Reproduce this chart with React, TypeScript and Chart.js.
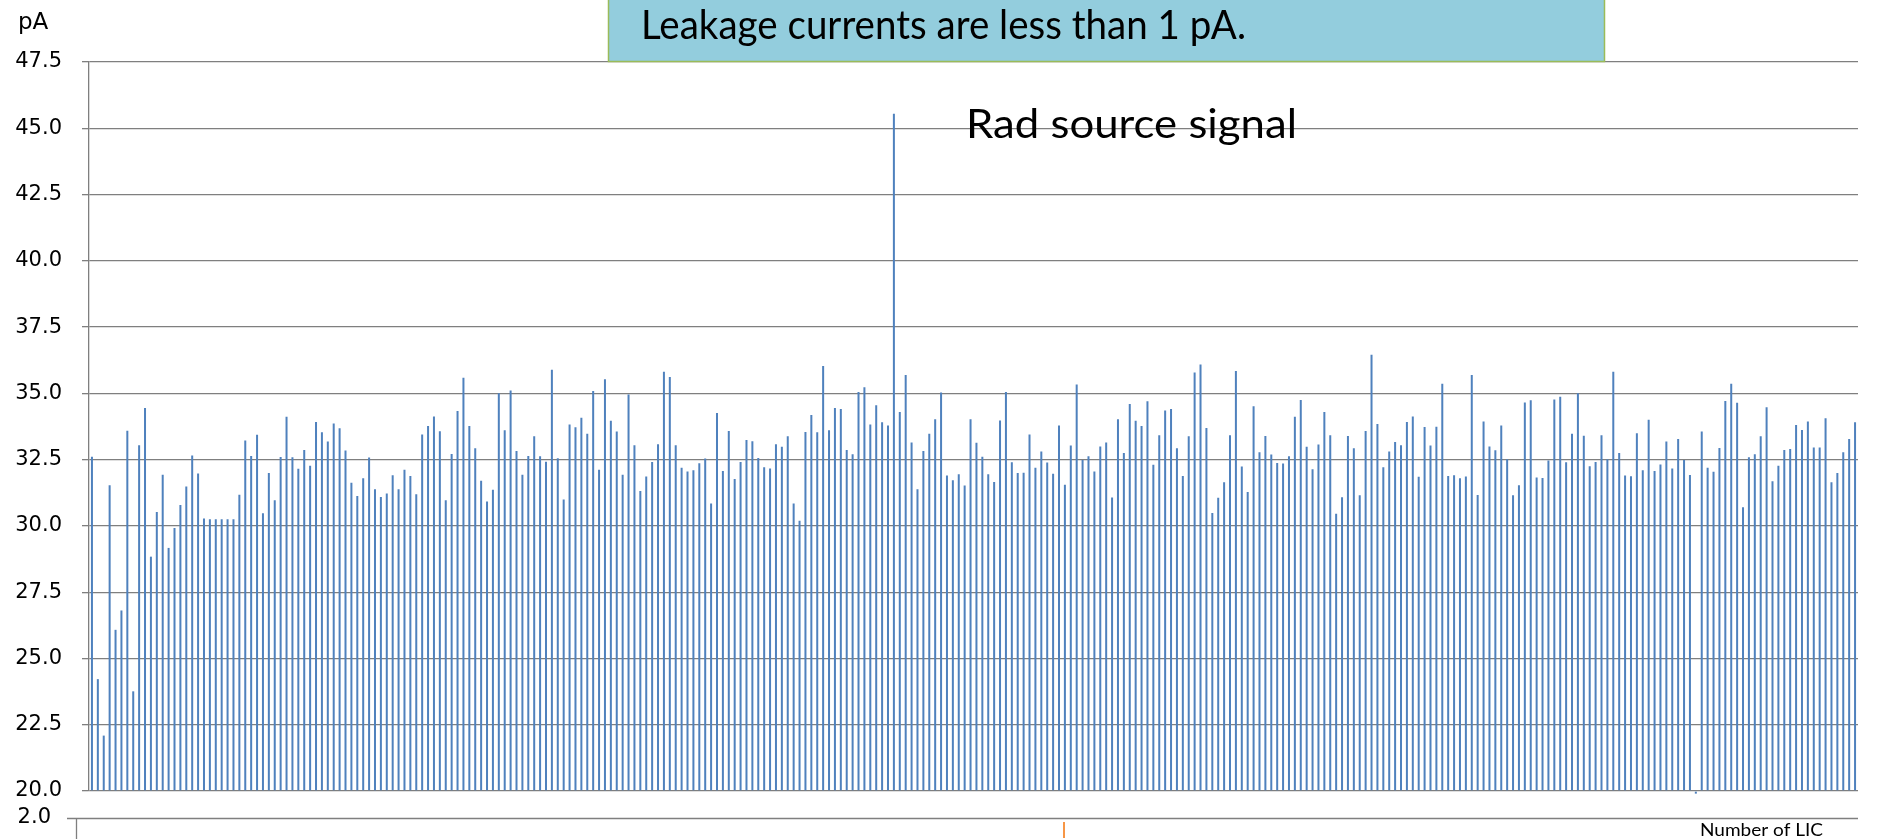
import React, { useEffect, useRef } from 'react';
import { Chart, registerables } from 'chart.js';

Chart.register(...registerables);

// Leakage current per LIC (pA), read left to right in seven stretches
const leakageSeg1 = [32.61, 24.22, 22.09, 31.53, 26.08, 26.81, 33.59, 23.76, 33.04, 34.45, 28.84, 30.52, 31.93, 29.17, 29.92, 30.79, 31.49, 32.66, 31.98, 30.28, 30.25, 30.25, 30.25, 30.25, 30.25, 31.18, 33.22, 32.64, 33.44, 30.48, 32.0, 30.97, 32.6, 34.12, 32.59, 32.16, 32.86, 32.27, 33.92, 33.53, 33.18, 33.86, 33.68];
const leakageSeg2 = [32.84, 31.63, 31.13, 31.8, 32.58, 31.38, 31.09, 31.22, 31.91, 31.38, 32.12, 31.88, 31.19, 33.45, 33.77, 34.13, 33.57, 30.97, 32.71, 34.33, 35.59, 33.77, 32.93, 31.7, 30.92, 31.36, 35.0, 33.61, 35.11, 32.83, 31.93, 32.64, 33.38, 32.63, 32.42, 35.89, 32.55, 31.0, 33.83, 33.72, 34.08, 33.48, 35.09];
const leakageSeg3 = [32.12, 35.53, 33.97, 33.56, 31.93, 34.96, 33.04, 31.32, 31.86, 32.41, 33.08, 35.82, 35.62, 33.04, 32.19, 32.05, 32.1, 32.36, 32.54, 30.85, 34.26, 32.07, 33.58, 31.77, 32.41, 33.24, 33.19, 32.56, 32.21, 32.17, 33.08, 32.99, 33.38, 30.85, 30.19, 33.54, 34.18, 33.53, 36.03, 33.61, 34.45, 34.41, 32.86];
const leakageSeg4 = [32.7, 35.05, 35.23, 33.83, 34.55, 33.91, 33.79, 45.55, 34.3, 35.69, 33.15, 31.38, 32.83, 33.48, 34.02, 35.03, 31.9, 31.72, 31.95, 31.52, 34.02, 33.14, 32.61, 31.95, 31.66, 33.98, 35.05, 32.4, 32.0, 32.01, 33.45, 32.19, 32.81, 32.39, 31.97, 33.79, 31.55, 33.03, 35.33, 32.49, 32.63, 32.05, 33.0];
const leakageSeg5 = [33.15, 31.07, 34.02, 32.75, 34.6, 33.97, 33.77, 34.7, 32.31, 33.42, 34.35, 34.41, 32.93, 31.88, 33.38, 35.79, 36.09, 33.69, 30.49, 31.06, 31.65, 33.42, 35.84, 32.24, 31.28, 34.51, 32.78, 33.39, 32.69, 32.37, 32.35, 32.63, 34.12, 34.75, 32.99, 32.14, 33.07, 34.3, 33.42, 30.46, 31.08, 33.39, 32.93, 31.16];
const leakageSeg6 = [33.58, 36.46, 33.84, 32.21, 32.81, 33.17, 33.04, 33.92, 34.13, 31.85, 33.73, 33.03, 33.74, 35.36, 31.88, 31.91, 31.8, 31.86, 35.69, 31.17, 33.94, 33.0, 32.85, 33.79, 32.51, 31.16, 31.53, 34.66, 34.74, 31.83, 31.81, 32.47, 34.77, 34.87, 32.4, 33.48, 35.0, 33.4, 32.25, 32.41, 33.42, 32.51, 35.82];
const leakageSeg7 = [32.75, 31.9, 31.87, 33.5, 32.1, 34.0, 32.07, 32.32, 33.18, 32.17, 33.28, 32.49, 31.92, 19.9, 33.56, 32.19, 32.04, 32.94, 34.71, 35.36, 34.65, 30.7, 32.59, 32.7, 33.38, 34.48, 31.68, 32.27, 32.86, 32.9, 33.81, 33.62, 33.94, 32.96, 32.96, 34.06, 31.65, 32.0, 32.78, 33.28, 33.91];

const leakageValues = [
  ...leakageSeg1, ...leakageSeg2, ...leakageSeg3, ...leakageSeg4,
  ...leakageSeg5, ...leakageSeg6, ...leakageSeg7,
];
const licNumbers = leakageValues.map((_, i) => String(i + 1));

const yMin = 20;
const yMax = 47.5;
const yStep = 2.5;

const headerText = 'Leakage currents are less than 1 pA.';
const peakNote = 'Rad source signal';
const yUnit = 'pA';
const xTitle = 'Number of LIC';
const lowerAxisLabel = '2.0';

function drawFitted(ctx: CanvasRenderingContext2D, text: string, x: number, baseline: number, width: number, font: string, color: string) {
  ctx.save();
  ctx.font = font;
  const w = ctx.measureText(text).width;
  ctx.translate(x, baseline);
  ctx.scale(width / w, 1);
  ctx.fillStyle = color;
  ctx.textAlign = 'left';
  ctx.textBaseline = 'alphabetic';
  ctx.fillText(text, 0, 0);
  ctx.restore();
}

const annotationPlugin = {
  id: 'annotationPlugin',
  afterDraw(chart: any) {
    const ctx: CanvasRenderingContext2D = chart.ctx;
    ctx.save();

    // header box
    ctx.fillStyle = '#93CDDD';
    ctx.fillRect(608, -2, 997, 64);
    ctx.strokeStyle = '#9BBB59';
    ctx.lineWidth = 1.5;
    ctx.strokeRect(608.5, -2, 996, 63.5);
    drawFitted(ctx, headerText, 641, 39, 605, '40px Lato', '#000000');

    // peak note
    drawFitted(ctx, peakNote, 966, 138, 331, '40px Lato', '#000000');

    // unit label
    ctx.font = '23px "DejaVu Sans"';
    ctx.fillStyle = '#000000';
    ctx.textAlign = 'left';
    ctx.textBaseline = 'alphabetic';
    ctx.fillText(yUnit, 18, 29);

    // lower broken axis strip
    ctx.strokeStyle = '#7f7f7f';
    ctx.lineWidth = 1.3;
    ctx.beginPath();
    ctx.moveTo(67, 818.5);
    ctx.lineTo(1858, 818.5);
    ctx.moveTo(76.5, 819);
    ctx.lineTo(76.5, 839);
    ctx.stroke();

    ctx.strokeStyle = '#F79646';
    ctx.lineWidth = 2;
    ctx.beginPath();
    ctx.moveTo(1064, 822);
    ctx.lineTo(1064, 838);
    ctx.stroke();

    ctx.font = '21px "DejaVu Sans"';
    ctx.fillStyle = '#000000';
    ctx.textAlign = 'right';
    ctx.textBaseline = 'middle';
    ctx.fillText(lowerAxisLabel, 51, 818);

    drawFitted(ctx, xTitle, 1700, 836, 123, '18px Lato', '#000000');

    ctx.restore();
  },
};

export default function App() {
  const canvasRef = useRef<HTMLCanvasElement | null>(null);

  useEffect(() => {
    document.body.style.margin = '0';
    const canvas = canvasRef.current;
    if (!canvas) return;
    const chart = new Chart(canvas, {
      type: 'bar',
      data: {
        labels: licNumbers,
        datasets: [
          {
            label: 'Leakage current',
            data: leakageValues,
            backgroundColor: '#4F81BD',
            borderWidth: 0,
            barPercentage: 0.34,
            categoryPercentage: 1,
            base: yMin,
            clip: false,
          } as any,
        ],
      },
      options: {
        animation: false,
        responsive: false,
        devicePixelRatio: 1,
        layout: { padding: { top: 62, right: 20, bottom: 48, left: 0 } },
        plugins: {
          legend: { display: false },
          tooltip: { enabled: false },
          title: { display: false },
        },
        scales: {
          x: { display: false, offset: true },
          y: {
            min: yMin,
            max: yMax,
            afterFit: (scale: any) => {
              scale.width = 89;
            },
            ticks: {
              stepSize: yStep,
              padding: 20,
              color: '#000000',
              font: { family: 'DejaVu Sans', size: 21 },
              callback: (v: any) => Number(v).toFixed(1),
            },
            grid: {
              color: '#7f7f7f',
              lineWidth: 1.3,
              tickLength: 7,
              drawTicks: true,
            },
            border: { display: true, color: '#7f7f7f', width: 1.3 },
          },
        },
      },
      plugins: [annotationPlugin],
    });
    return () => chart.destroy();
  }, []);

  return (
    <div style={{ width: 1878, height: 839, position: 'relative', background: '#ffffff' }}>
      <canvas ref={canvasRef} width={1878} height={839} style={{ display: 'block', width: 1878, height: 839 }} />
    </div>
  );
}
